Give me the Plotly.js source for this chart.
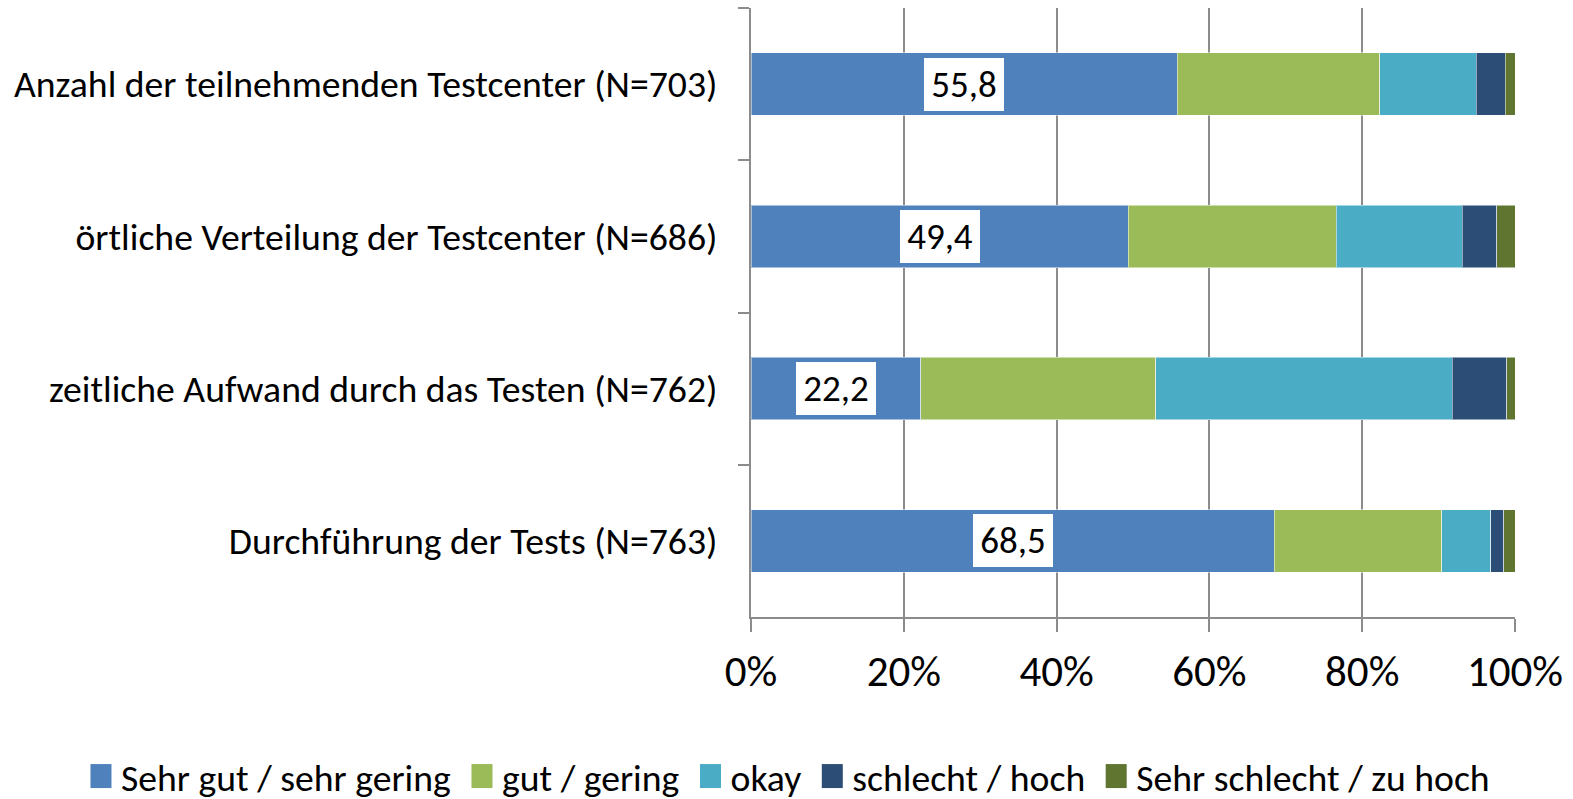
<!DOCTYPE html>
<html>
<head>
<meta charset="utf-8">
<script src="https://cdn.plot.ly/plotly-3.0.1.min.js"></script>
<style>html,body{margin:0;padding:0;background:#fff;}#chart{width:1573px;height:799px;}</style>
</head>
<body>
<div id="chart"></div>
<script>
const categories = [
  "Anzahl der teilnehmenden Testcenter (N=703)",
  "örtliche Verteilung der Testcenter (N=686)",
  "zeitliche Aufwand durch das Testen (N=762)",
  "Durchführung der Tests (N=763)"
];
const seriesNames = ["Sehr gut / sehr gering", "gut / gering", "okay", "schlecht / hoch", "Sehr schlecht / zu hoch"];
const sehrGut = [55.8, 49.4, 22.2, 68.5];
const gut = [26.5, 27.2, 30.8, 21.9];
const okay = [12.6, 16.5, 38.8, 6.4];
const schlecht = [3.8, 4.5, 7.1, 1.7];
const sehrSchlecht = [1.3, 2.4, 1.1, 1.5];
const colors = ["#4F81BD", "#9BBB59", "#4BACC6", "#2C4D75", "#5F7530"];
const xTicks = [0, 20, 40, 60, 80, 100];

const FONT = "Carlito, Calibri, sans-serif";
const LEGEND_EXTRA_GAP = 6;
const allSeries = [sehrGut, gut, okay, schlecht, sehrSchlecht];
const traces = allSeries.map((vals, i) => ({
  type: "bar",
  orientation: "h",
  name: seriesNames[i],
  y: categories,
  x: vals,
  marker: {color: colors[i], line: {color: "rgba(255,255,255,0.5)", width: 1}},
  hoverinfo: "x+y+name"
}));

const annotations = categories.map((c, i) => ({
  x: sehrGut[i] / 2,
  y: c,
  xref: "x", yref: "y",
  text: sehrGut[i].toFixed(1).replace(".", ","),
  showarrow: false,
  bgcolor: "#ffffff",
  borderwidth: 0,
  borderpad: 4,
  width: 72,
  font: {family: FONT, size: 37, color: "#000"}
}));

const layout = {
  width: 1573, height: 799,
  margin: {l: 751, r: 58, t: 8, b: 182, autoexpand: false},
  paper_bgcolor: "#fff", plot_bgcolor: "#fff",
  barmode: "stack",
  bargap: 0.59,
  font: {family: FONT, size: 37.7, color: "#000"},
  xaxis: {
    range: [0, 100],
    tickvals: xTicks,
    ticktext: xTicks.map(v => v + "%"),
    showgrid: true, gridcolor: "#8C8C8C", gridwidth: 2,
    zeroline: false,
    showline: true, linecolor: "#8C8C8C", linewidth: 2,
    ticks: "outside", ticklen: 13, tickwidth: 2, tickcolor: "#8C8C8C",
    tickfont: {family: FONT, size: 43, color: "#000"},
    ticklabelstandoff: 2,
    automargin: false,
    fixedrange: true
  },
  yaxis: {
    type: "category",
    categoryorder: "array",
    categoryarray: categories,
    autorange: "reversed",
    showline: true, linecolor: "#8C8C8C", linewidth: 2,
    ticks: "outside", tickson: "boundaries", ticklen: 11, tickwidth: 2, tickcolor: "#8C8C8C",
    tickfont: {family: FONT, size: 37.7, color: "#000"},
    ticklabelstandoff: 24,
    showgrid: false,
    automargin: false,
    fixedrange: true
  },
  legend: {
    orientation: "h",
    xref: "paper", x: -0.877, xanchor: "left",
    yref: "paper", y: -0.262, yanchor: "middle",
    traceorder: "normal",
    font: {family: FONT, size: 37.7, color: "#000"},
    itemwidth: 30,
    tracegroupgap: 0
  },
  annotations: annotations,
  showlegend: true
};

function draw() {
  Plotly.newPlot("chart", traces, layout, {displayModeBar: false, staticPlot: true}).then(() => {
    document.querySelectorAll(".legend .legendpoints path").forEach(p => {
      const t = p.getAttribute("transform") || "";
      p.setAttribute("transform", t + " scale(1.75,2)");
      p.style.strokeWidth = "0";
    });
    const sb = document.querySelector(".legend .scrollbox");
    if (sb) sb.removeAttribute("clip-path");
    document.querySelectorAll(".legend .traces").forEach((g, i) => {
      const t = g.getAttribute("transform") || "";
      const m = t.match(/translate\(\s*([-\d.e]+)[ ,]+([-\d.e]+)\s*\)/);
      if (m) {
        g.setAttribute("transform", "translate(" + (parseFloat(m[1]) + i * LEGEND_EXTRA_GAP) + "," + m[2] + ")");
      }
    });
  });
}
if (document.fonts && document.fonts.load) {
  Promise.all([document.fonts.load("38px Carlito"), document.fonts.load("43px Carlito")]).then(draw, draw);
} else { draw(); }
</script>
</body>
</html>
